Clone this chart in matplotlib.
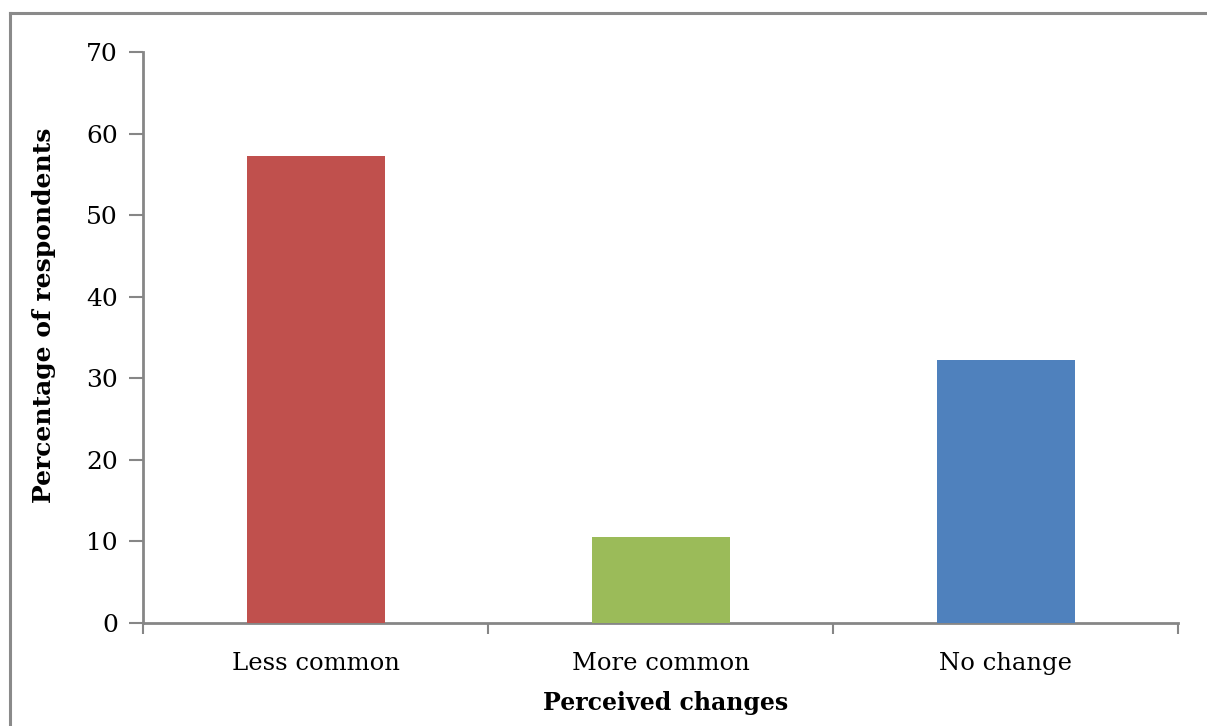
import numpy as np
import matplotlib.pyplot as plt
from matplotlib.lines import Line2D

categories = ['Less common', 'More common', 'No change']
percentages = [57.2, 10.5, 32.2]
bar_colors = ['#C0504D', '#9BBB59', '#4F81BD']

plt.rcParams['font.family'] = ['DejaVu Serif']
axis_grey = '#868686'

fig = plt.figure(figsize=(12.07, 7.26), dpi=100)
ax = fig.add_axes([0.1185, 0.1419, 0.8575, 0.7865])

x = np.arange(len(categories))
ax.bar(x, percentages, width=0.4, color=bar_colors, zorder=3)

ax.set_xlim(-0.5, len(categories) - 0.5)
ax.set_ylim(0, 70)
ax.set_yticks(range(0, 71, 10))

# labels at bar centres, tick marks at the category boundaries
ax.set_xticks(x)
ax.set_xticklabels(categories, fontsize=17.5)
ax.tick_params(axis='x', which='major', length=0, pad=21)
ax.set_xticks(np.arange(-0.5, len(categories), 1), minor=True)
ax.tick_params(axis='x', which='minor', length=8, width=1.5, color=axis_grey, direction='out')
ax.tick_params(axis='y', length=10, width=1.5, color=axis_grey, labelsize=18, pad=8)

for side in ['top', 'right']:
    ax.spines[side].set_visible(False)
for side in ['left', 'bottom']:
    ax.spines[side].set_color(axis_grey)
    ax.spines[side].set_linewidth(2)

ax.set_xlabel('Perceived changes', fontsize=17, fontweight='bold')
ax.xaxis.set_label_coords(0.505, -0.119)
ax.set_ylabel('Percentage of respondents', fontsize=18, fontweight='bold')
ax.yaxis.set_label_coords(-0.084, 0.538)

# frame around the chart area
fig.add_artist(Line2D([10 / 1207, 10 / 1207], [0, 1 - 13 / 726], color='#8a8a8a', lw=2.2))
fig.add_artist(Line2D([10 / 1207, 1], [1 - 13 / 726, 1 - 13 / 726], color='#8a8a8a', lw=2.2))

fig.savefig('out.png', dpi=100)
